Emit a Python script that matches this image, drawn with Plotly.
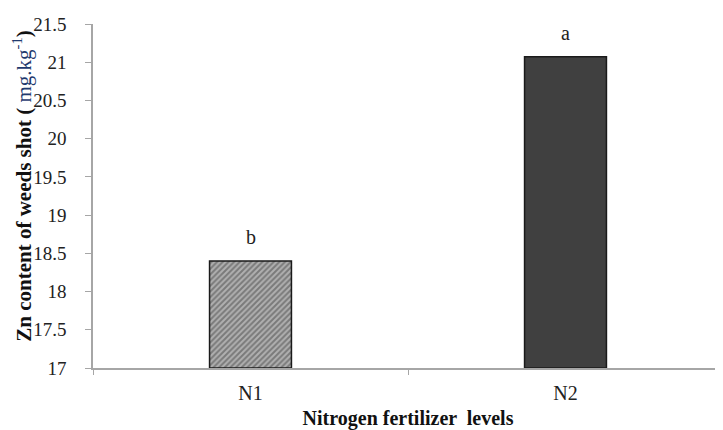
import plotly.graph_objects as go

categories = ["N1", "N2"]
values = [18.4, 21.07]
letters = ["b", "a"]
ytick_vals = [17, 17.5, 18, 18.5, 19, 19.5, 20, 20.5, 21, 21.5]
ytick_text = ["17", "17.5", "18", "18.5", "19", "19.5", "20", "20.5", "21", "21.5"]
BASE = 17

serif = "Liberation Serif, Times New Roman, serif"

fig = go.Figure()
fig.add_trace(go.Bar(
    x=categories,
    y=[v - BASE for v in values],
    base=BASE,
    width=0.26,
    marker=dict(
        color=["#b0b0b0", "#404040"],
        line=dict(color="#1a1a1a", width=1.5),
        pattern=dict(
            shape=["/", ""],
            fgcolor="#262626",
            bgcolor="#a0a0a0",
            size=4,
            solidity=0.5,
        ),
    ),
))
for c, v, t in zip(categories, values, letters):
    fig.add_annotation(x=c, y=v, text=t, showarrow=False, yanchor="bottom", yshift=11,
                       font=dict(family=serif, size=20, color="#222"))

# y-axis title as a rotated annotation for precise placement
fig.add_annotation(
    xref="paper", yref="paper", x=-0.111, y=0.53,
    xanchor="center", yanchor="middle", textangle=-90, showarrow=False,
    text="<b>Zn content of weeds shot (</b> <span style='color:#1f3a6e'>mg.kg<sup>-1</sup></span><b>)</b>",
    font=dict(family=serif, size=21, color="#111"),
)

# page body has an 8px margin, so the figure is sized to fit the 723x430 window
fig.update_layout(
    width=715, height=422,
    margin=dict(l=85, r=0, t=16, b=62, pad=0),
    paper_bgcolor="white",
    plot_bgcolor="white",
    showlegend=False,
    font=dict(family=serif, color="#222"),
)
fig.update_xaxes(
    type="category",
    range=[-0.5, 1.5],
    automargin=False,
    showline=True, linecolor="#a6a6a6", linewidth=1.5,
    ticks="outside", tickson="boundaries", ticklen=5, tickcolor="#a6a6a6",
    ticklabelstandoff=6,
    tickfont=dict(family=serif, size=20, color="#222"),
    showgrid=False,
    title=dict(text="<b>Nitrogen fertilizer  levels</b>", font=dict(family=serif, size=20, color="#111"), standoff=10),
)
fig.update_yaxes(
    range=[17, 21.5],
    automargin=False,
    tickvals=ytick_vals, ticktext=ytick_text,
    showline=True, linecolor="#a6a6a6", linewidth=1.5,
    ticks="outside", ticklen=6, tickcolor="#a6a6a6",
    ticklabelstandoff=15,
    tickfont=dict(family=serif, size=19, color="#222"),
    showgrid=False, zeroline=False,
)

fig.write_html("out.html")
